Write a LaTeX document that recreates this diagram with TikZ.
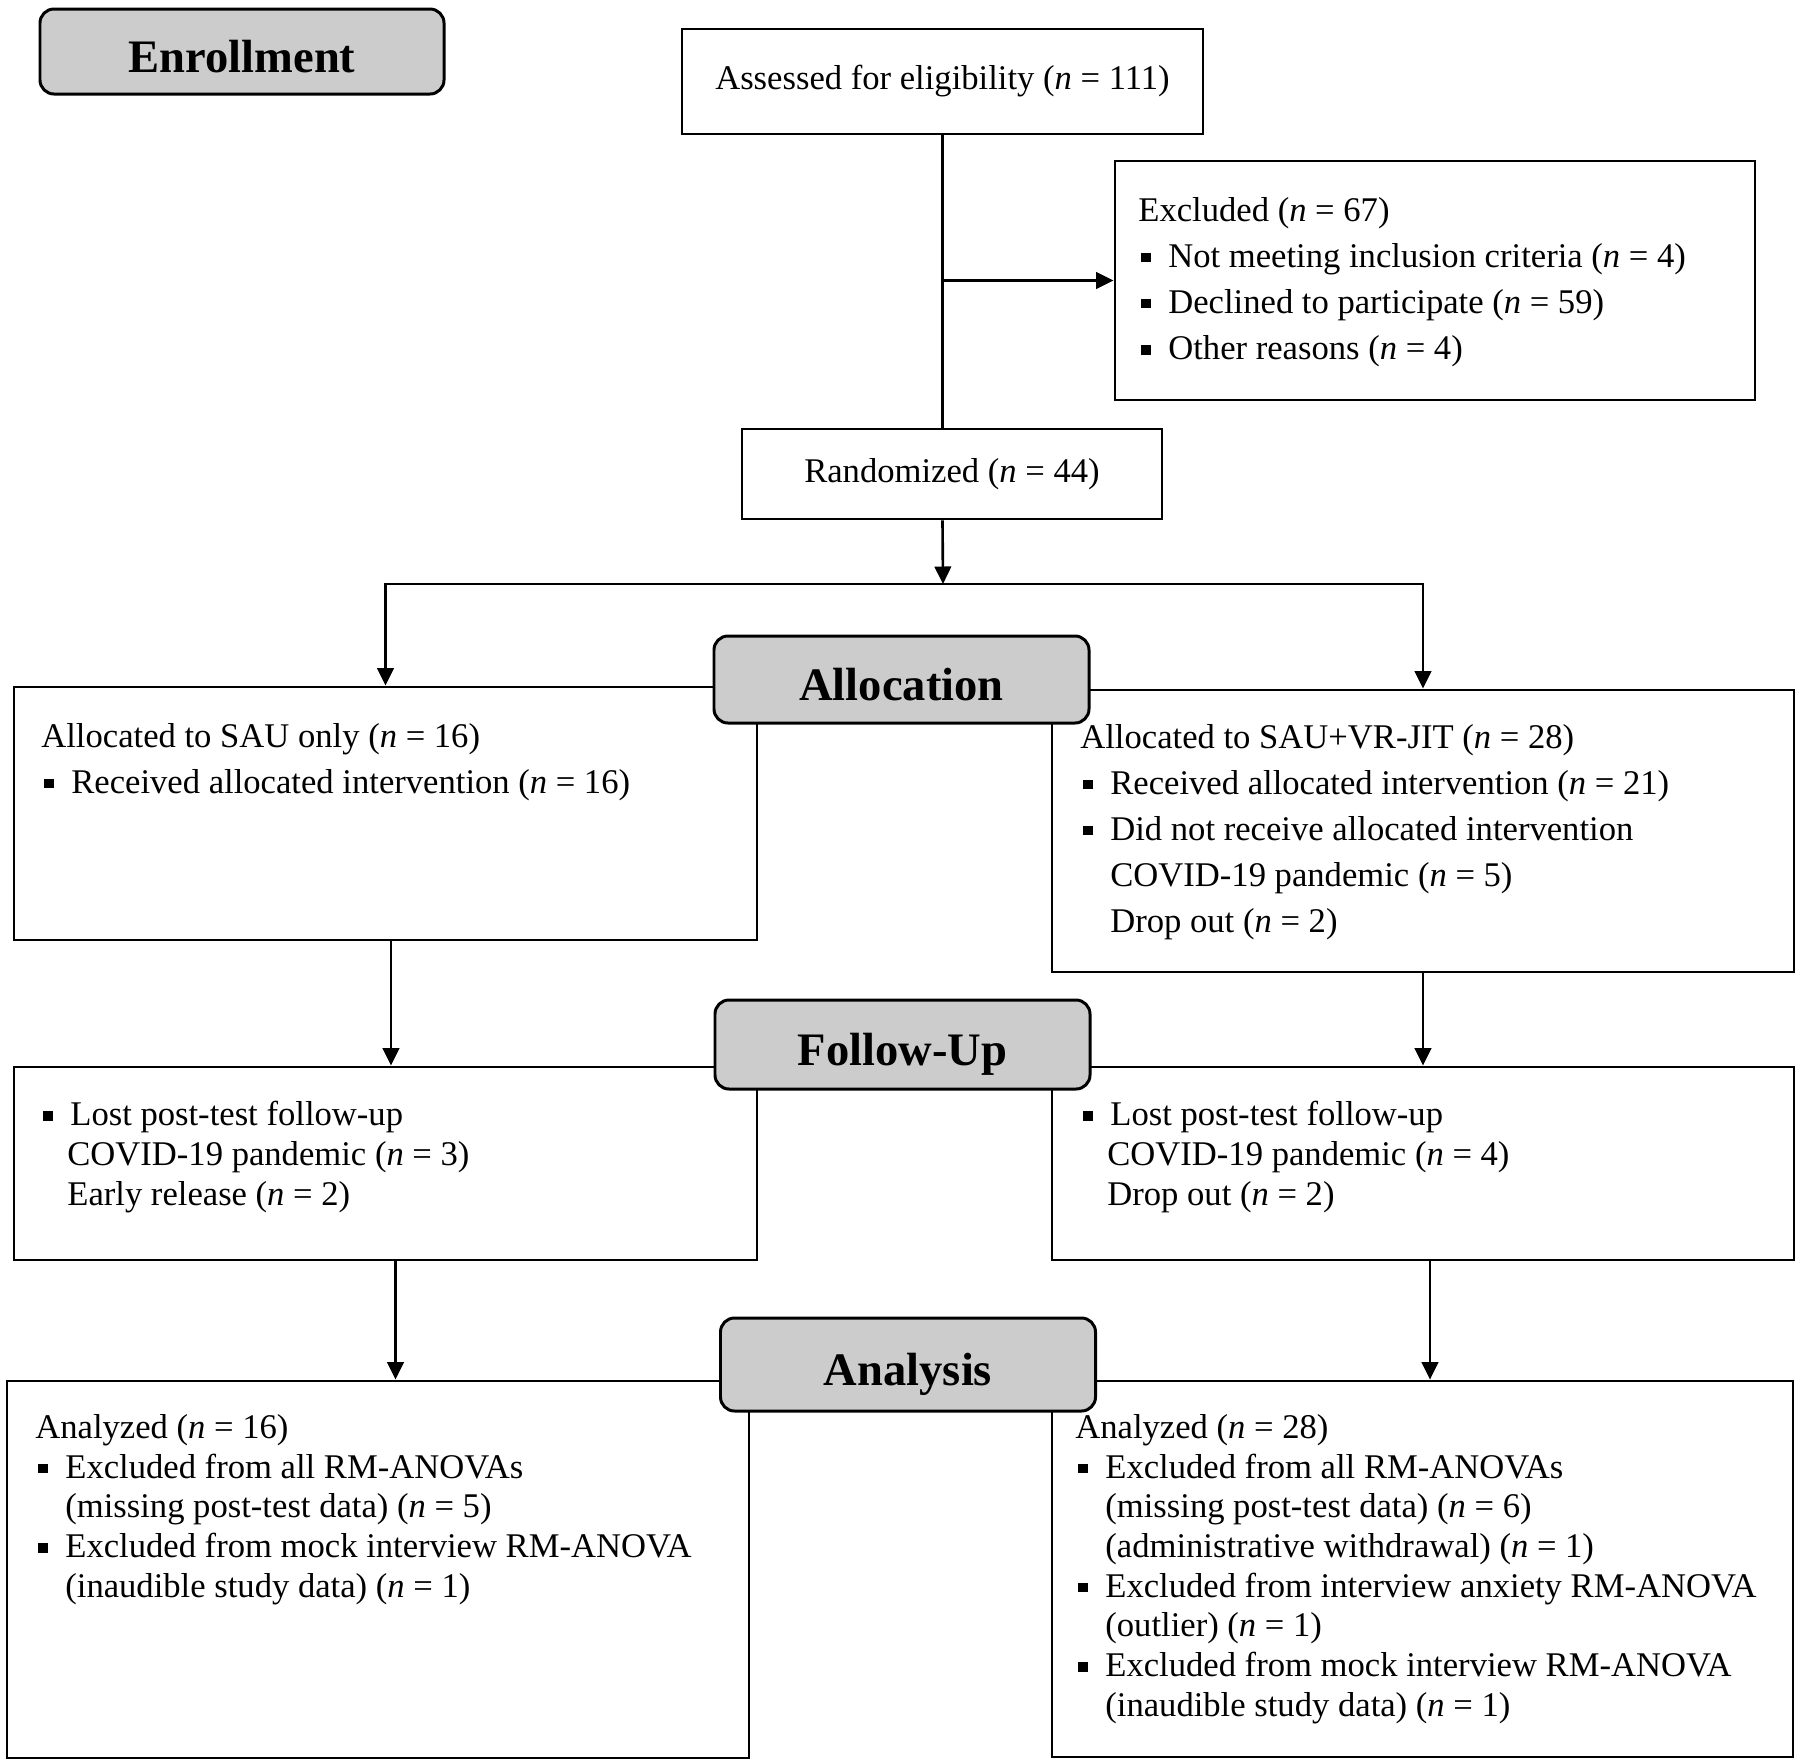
\documentclass[tikz,border=0pt]{standalone}
\usepackage{fontspec}
\setmainfont{Liberation Serif}
\usetikzlibrary{arrows.meta}
\definecolor{stagegray}{RGB}{204,204,204}
\newcommand{\sqbul}{\hspace*{0.6mm}\rule[1mm]{1.9mm}{1.9mm}\hspace*{3.5mm}}
\newcommand{\subind}{\hspace*{6mm}}

\begin{document}
\begin{tikzpicture}[x=0.2mm, y=-0.2mm,
  box/.style={draw, line width=1.6pt, inner sep=0pt, font=\fontsize{19.7}{26.2}\selectfont},
  stage/.style={draw, line width=1.7pt, fill=stagegray, rounded corners=2.8mm, minimum width=75mm, minimum height=17.4mm, text height=23.5pt, text depth=0pt, font=\fontsize{26.5}{30}\selectfont\bfseries},
  body/.style={anchor=north west, inner sep=0pt, align=left, font=\fontsize{19.7}{26.2}\selectfont},
  bodytight/.style={body, font=\fontsize{19.7}{22.6}\selectfont},
  link/.style={line width=1.5pt},
  conn/.style={line width=1.5pt, -{Triangle[length=3.5mm, width=3.3mm]}}]
  \useasboundingbox (0,0) rectangle (1800,1761);

  % Enrollment
  \node[stage, minimum width=80.8mm, minimum height=17mm] (enroll) at (242,51.5) {Enrollment};
  \node[box, minimum width=104.2mm, minimum height=21mm] (assess) at (942.5,81.5) {Assessed for eligibility (\textit{n} = 111)};
  \node[box, minimum width=128mm, minimum height=47.8mm] (excl) at (1435,280.5) {};
  \node[body] (exclT) at (1138,197) {Excluded (\textit{n} = 67)\\
    \sqbul Not meeting inclusion criteria (\textit{n} = 4)\\
    \sqbul Declined to participate (\textit{n} = 59)\\
    \sqbul Other reasons (\textit{n} = 4)};
  \node[box, minimum width=84mm, minimum height=18mm] (rand) at (952,474) {Randomized (\textit{n} = 44)};

  % Allocation
  \node[box, minimum width=148.6mm, minimum height=50.6mm] (alloL) at (385.5,813.5) {};
  \node[body] (alloLT) at (41,723) {Allocated to SAU only (\textit{n} = 16)\\
    \sqbul Received allocated intervention (\textit{n} = 16)};
  \node[box, minimum width=148.4mm, minimum height=56.4mm] (alloR) at (1423,831) {};
  \node[body] (alloRT) at (1080,724) {Allocated to SAU+VR-JIT (\textit{n} = 28)\\
    \sqbul Received allocated intervention (\textit{n} = 21)\\
    \sqbul Did not receive allocated intervention\\
    \subind COVID-19 pandemic (\textit{n} = 5)\\
    \subind Drop out (\textit{n} = 2)};

  % Follow-Up
  \node[box, minimum width=148.6mm, minimum height=38.6mm] (fuL) at (385.5,1163.5) {};
  \node[bodytight] (fuLT) at (40,1101) {\sqbul Lost post-test follow-up\\
    \hspace*{5.4mm}COVID-19 pandemic (\textit{n} = 3)\\
    \hspace*{5.4mm}Early release (\textit{n} = 2)};
  \node[box, minimum width=148.4mm, minimum height=38.6mm] (fuR) at (1423,1163.5) {};
  \node[bodytight] (fuRT) at (1080,1101) {\sqbul Lost post-test follow-up\\
    \hspace*{5.4mm}COVID-19 pandemic (\textit{n} = 4)\\
    \hspace*{5.4mm}Drop out (\textit{n} = 2)};

  % Analysis
  \node[box, minimum width=148.4mm, minimum height=75.4mm] (anL) at (378,1569.5) {};
  \node[bodytight] (anLT) at (35,1414) {Analyzed (\textit{n} = 16)\\
    \sqbul Excluded from all RM-ANOVAs\\
    \subind (missing post-test data) (\textit{n} = 5)\\
    \sqbul Excluded from mock interview RM-ANOVA\\
    \subind (inaudible study data) (\textit{n} = 1)};
  \node[box, minimum width=148.2mm, minimum height=75.2mm] (anR) at (1422.5,1569) {};
  \node[bodytight] (anRT) at (1075,1414) {Analyzed (\textit{n} = 28)\\
    \sqbul Excluded from all RM-ANOVAs\\
    \subind (missing post-test data) (\textit{n} = 6)\\
    \subind (administrative withdrawal) (\textit{n} = 1)\\
    \sqbul Excluded from interview anxiety RM-ANOVA\\
    \subind (outlier) (\textit{n} = 1)\\
    \sqbul Excluded from mock interview RM-ANOVA\\
    \subind (inaudible study data) (\textit{n} = 1)};

  % Connectors
  \draw[link] (assess.south) -- (assess.south |- rand.north);
  \draw[conn] (assess.south |- excl.west) -- (excl.west);
  \coordinate (split) at (943,584);
  \draw[conn] (assess.south |- rand.south) -- (split);
  \draw[conn] (split) -| (alloL.north);
  \draw[conn] (split) -| (alloR.north);
  \draw[conn] ([xshift=1.1mm]alloL.south) -- ([xshift=1.1mm]alloL.south |- fuL.north);
  \draw[conn] (alloR.south) -- (alloR.south |- fuR.north);
  \draw[conn] ([xshift=2mm]fuL.south) -- ([xshift=2mm]fuL.south |- anL.north);
  \draw[conn] ([xshift=1.4mm]fuR.south) -- ([xshift=1.4mm]fuR.south |- anR.north);

  % Stage labels on top of the boxes
  \node[stage] (alloc) at (901.5,679.5) {Allocation};
  \node[stage, minimum height=17.8mm] (follow) at (902.5,1044.5) {Follow-Up};
  \node[stage, minimum height=18.6mm] (analysis) at (908,1364.5) {Analysis};
\end{tikzpicture}
\end{document}
